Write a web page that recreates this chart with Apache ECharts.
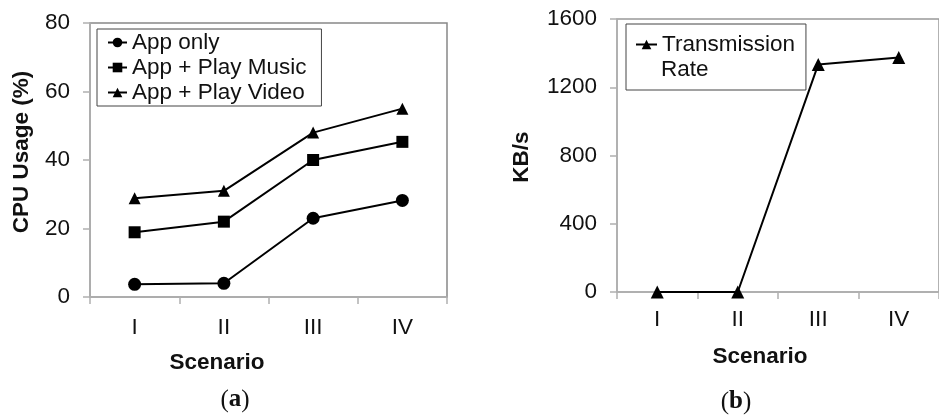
<!DOCTYPE html>
<html>
<head>
<meta charset="utf-8">
<script src="https://cdn.jsdelivr.net/npm/echarts@6/dist/echarts.min.js"></script>
<style>
html,body{margin:0;padding:0;background:#fff;}
#c{width:939px;height:417px;}
</style>
</head>
<body>
<div id="c"></div>
<script>
const scenarios = ['I', 'II', 'III', 'IV'];
const appOnly = [3.7, 4.0, 23.0, 28.2];
const appMusic = [18.9, 22.0, 40.0, 45.3];
const appVideo = [28.8, 31.0, 48.0, 55.0];
const transmissionRate = [0, 0, 1334, 1375];
const cpuTicks = { min: 0, max: 80, interval: 20 };
const rateTicks = { min: 0, max: 1600, interval: 400 };

const FONT = "'Liberation Sans', Arial, sans-serif";
const axisGray = '#b0b0b0';

function xAx(gridIndex, margin) {
  return {
    type: 'category', gridIndex, data: scenarios, boundaryGap: true,
    axisLine: { show: true, lineStyle: { color: axisGray, width: 1.5 } },
    axisTick: { show: true, length: 7, inside: false, lineStyle: { color: axisGray, width: 1.5 } },
    axisLabel: { fontFamily: FONT, fontSize: 22.5, color: '#111', margin },
    splitLine: { show: false }
  };
}
function yAx(gridIndex, t) {
  return {
    type: 'value', gridIndex, min: t.min, max: t.max, interval: t.interval,
    axisLine: { show: true, lineStyle: { color: axisGray, width: 1.5 } },
    axisTick: { show: true, length: 7, lineStyle: { color: axisGray, width: 1.5 } },
    axisLabel: { fontFamily: FONT, fontSize: 22.5, color: '#111', margin: 20, formatter: v => String(v) },
    splitLine: { show: false }
  };
}
function lineSeries(name, data, symbol, xi, yi, size) {
  return {
    type: 'line', name, data, symbol, symbolSize: size,
    xAxisIndex: xi, yAxisIndex: yi,
    lineStyle: { color: '#000', width: 2 },
    itemStyle: { color: '#000' },
    emphasis: { disabled: true },
    animation: false
  };
}
function label(text, x, y, rot, bold) {
  return {
    type: 'text', x, y, rotation: rot || 0,
    style: { text, font: (bold === false ? '' : 'bold ') + "22.5px 'Liberation Sans', Arial, sans-serif", fill: '#111', align: rot ? 'center' : (bold === false ? 'left' : 'center'), verticalAlign: 'middle' }
  };
}
function panelTag(letter, x, y) {
  return {
    type: 'text', x, y,
    style: {
      text: '{n|(}{b|' + letter + '}{n|)}',
      align: 'center', verticalAlign: 'middle',
      rich: {
        n: { fontFamily: "'Liberation Serif', 'DejaVu Serif', serif", fontSize: 25, fill: '#111' },
        b: { fontFamily: "'Liberation Serif', 'DejaVu Serif', serif", fontSize: 25, fontWeight: 'bold', fill: '#111' }
      }
    }
  };
}

const chart = echarts.init(document.getElementById('c'), null, { renderer: 'canvas' });
chart.setOption({
  animation: false,
  backgroundColor: '#fff',
  grid: [
    { left: 90, top: 23, width: 357, height: 274, show: true, borderColor: '#888', borderWidth: 1.5, backgroundColor: 'transparent' },
    { left: 617, top: 19, width: 331, height: 273, show: true, borderColor: '#999', borderWidth: 1.5, backgroundColor: 'transparent' }
  ],
  xAxis: [xAx(0, 19), xAx(1, 16)],
  yAxis: [yAx(0, cpuTicks), yAx(1, rateTicks)],
  legend: [
    {
      left: 97, top: 29, orient: 'vertical',
      data: ['App only', 'App + Play Music', 'App + Play Video'],
      padding: [2, 15, 2, 10], itemGap: 2, itemWidth: 19, itemHeight: 12,
      borderColor: '#444', borderWidth: 1,
      textStyle: { fontFamily: FONT, fontSize: 22.5, color: '#111' },
      selectedMode: false
    },
    {
      left: 626, top: 24, orient: 'vertical',
      data: ['Transmission Rate'],
      formatter: name => name.split(' ')[0],
      padding: [8, 11, 33, 9], itemWidth: 21, itemHeight: 12,
      borderColor: '#444', borderWidth: 1,
      textStyle: { fontFamily: FONT, fontSize: 22.5, color: '#111', lineHeight: 25 },
      selectedMode: false
    }
  ],
  series: [
    lineSeries('App only', appOnly, 'circle', 0, 0, 13),
    lineSeries('App + Play Music', appMusic, 'rect', 0, 0, 12),
    lineSeries('App + Play Video', appVideo, 'triangle', 0, 0, 12),
    lineSeries('Transmission Rate', transmissionRate, 'triangle', 1, 1, 13)
  ],
  graphic: [
    label('CPU Usage (%)', 22, 152, Math.PI / 2),
    label('KB/s', 522, 157, Math.PI / 2),
    label('Scenario', 217, 363),
    label('Scenario', 760, 357),
    label('Rate', 661, 70, 0, false),
    panelTag('a', 235, 400),
    panelTag('b', 736, 402)
  ]
});
</script>
</body>
</html>
